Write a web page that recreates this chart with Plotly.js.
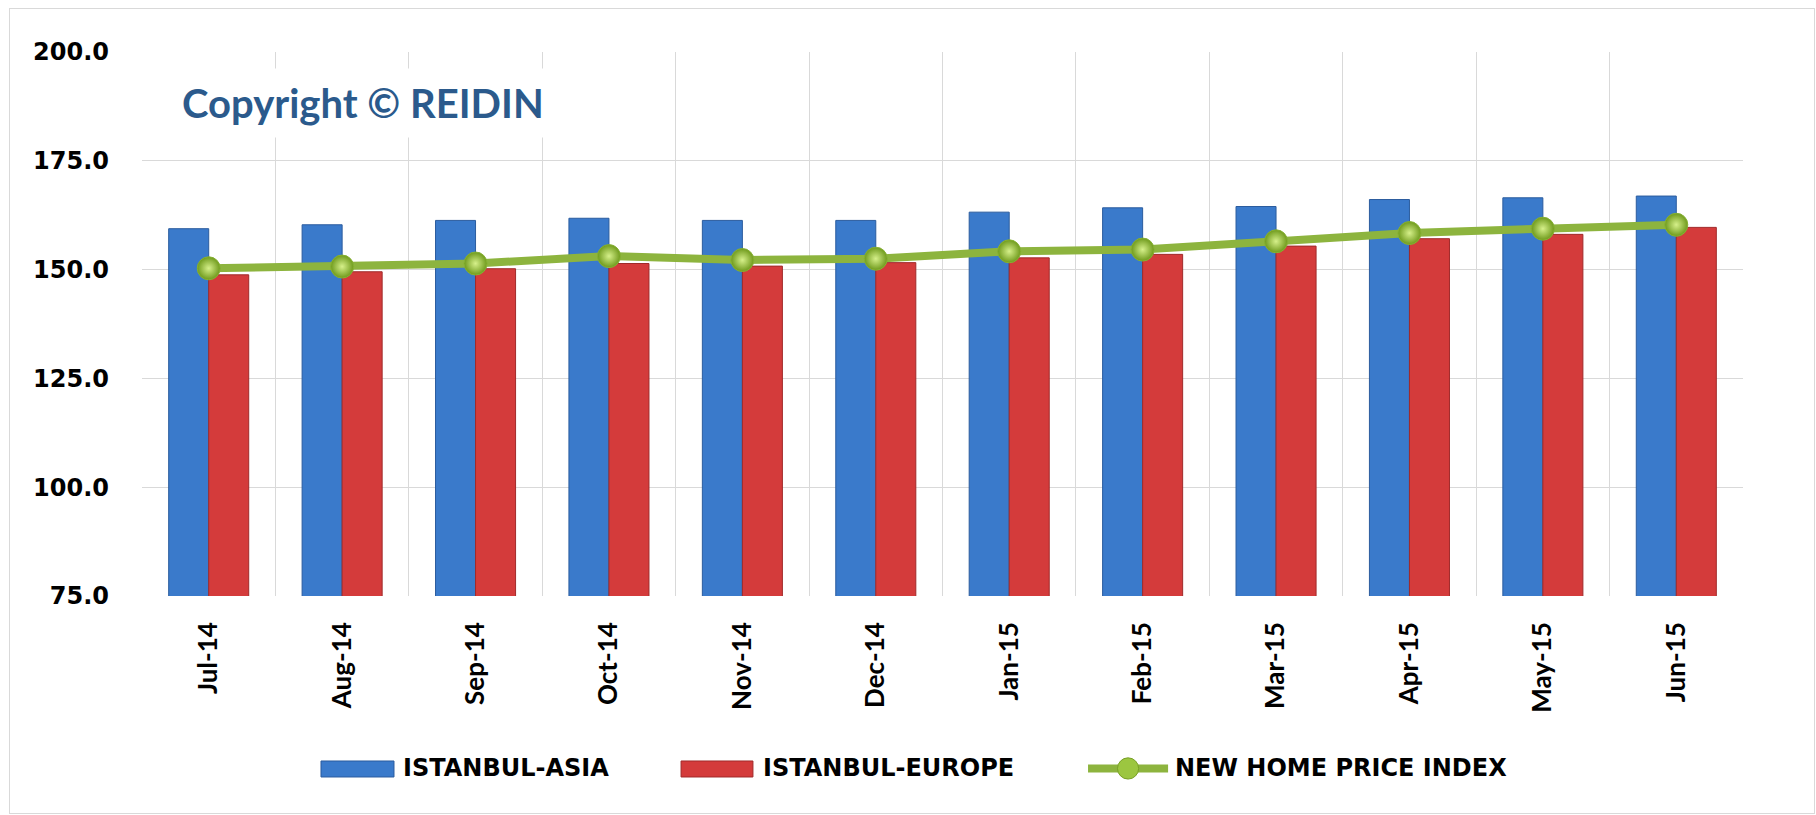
<!DOCTYPE html>
<html>
<head>
<meta charset="utf-8">
<script src="https://cdn.plot.ly/plotly-3.0.1.min.js"></script>
<style>
  html, body { margin: 0; padding: 0; background: #ffffff; }
  #chart { width: 1816px; height: 815px; }
  #frame { position: absolute; left: 9px; top: 8px; width: 1806px; height: 806px; border: 1px solid #d9d9d9; box-sizing: border-box; pointer-events: none; }
</style>
</head>
<body>
<div id="chart"></div>
<div id="frame"></div>
<script>
const months = ["Jul-14","Aug-14","Sep-14","Oct-14","Nov-14","Dec-14","Jan-15","Feb-15","Mar-15","Apr-15","May-15","Jun-15"];
const istanbulAsia   = [159.4, 160.3, 161.3, 161.8, 161.3, 161.3, 163.2, 164.2, 164.5, 166.1, 166.5, 166.9];
const istanbulEurope = [148.8, 149.5, 150.2, 151.4, 150.8, 151.6, 152.7, 153.5, 155.4, 157.1, 158.1, 159.7];
const newHomeIndex   = [150.3, 150.7, 151.4, 153.1, 152.2, 152.5, 154.2, 154.6, 156.5, 158.4, 159.4, 160.3];
const seriesNames = ["ISTANBUL-ASIA", "ISTANBUL-EUROPE", "NEW HOME PRICE INDEX"];
const yTicks = [75, 100, 125, 150, 175, 200];
const yTickText = ["75.0", "100.0", "125.0", "150.0", "175.0", "200.0"];

const BLUE = "#3a7acb", BLUE_EDGE = "#2b5c9e";
const RED = "#d43b3b", RED_EDGE = "#a02a2a";
const GREEN = "#8db43e";

const traces = [
  {
    type: "bar", name: seriesNames[0], x: months, y: istanbulAsia,
    marker: { color: BLUE, line: { color: BLUE_EDGE, width: 1 } }
  },
  {
    type: "bar", name: seriesNames[1], x: months, y: istanbulEurope,
    marker: { color: RED, line: { color: RED_EDGE, width: 1 } }
  },
  {
    type: "scatter", mode: "lines+markers", name: seriesNames[2], x: months, y: newHomeIndex,
    line: { color: GREEN, width: 8 },
    marker: { size: 23, color: "#6f9a1c", line: { color: "#86b133", width: 1 },
              gradient: { type: "radial", color: "#d6f08a" } }
  }
];

// Excel-style legend below the plot (paper coordinates)
const legendY = -0.317;
const legendFont = { family: "DejaVu Sans", size: 24, color: "#000000", weight: "bold" };
const legendShapes = [
  { type: "rect", xref: "paper", yref: "paper", x0: 0.1118, x1: 0.1574, y0: -0.3327, y1: -0.3033,
    fillcolor: BLUE, line: { color: BLUE_EDGE, width: 1 } },
  { type: "rect", xref: "paper", yref: "paper", x0: 0.3367, x1: 0.3816, y0: -0.3327, y1: -0.3033,
    fillcolor: RED, line: { color: RED_EDGE, width: 1 } },
  { type: "line", xref: "paper", yref: "paper", x0: 0.5909, x1: 0.6409, y0: legendY, y1: legendY,
    line: { color: GREEN, width: 8 } },
  { type: "circle", xref: "paper", yref: "paper", x0: 0.6159 - 0.0066, x1: 0.6159 + 0.0066,
    y0: legendY - 0.0195, y1: legendY + 0.0195, fillcolor: "#9cc640", line: { color: "#78a026", width: 1 } }
];
const legendXs = [0.1618, 0.3866, 0.6440];
const legendAnnotations = seriesNames.map((n, i) => ({
  text: n, xref: "paper", yref: "paper", x: legendXs[i], y: legendY,
  xanchor: "left", yanchor: "middle", showarrow: false, font: legendFont
}));

const layout = {
  width: 1816, height: 815,
  margin: { l: 142, r: 73, t: 52, b: 219 },
  paper_bgcolor: "#ffffff", plot_bgcolor: "#ffffff",
  barmode: "group", bargap: 0.4, bargroupgap: 0,
  showlegend: false,
  xaxis: {
    type: "category", range: [-0.5, 11.5], autorange: false,
    tickson: "boundaries", showgrid: true, gridcolor: "#d9d9d9", gridwidth: 1,
    ticks: "", tickangle: -90, ticklabelstandoff: 20,
    tickfont: { family: "Lato", size: 26, color: "#000000", weight: "bold" },
    showline: false, zeroline: false, fixedrange: true
  },
  yaxis: {
    range: [75, 200], autorange: false, tickvals: yTicks, ticktext: yTickText,
    showgrid: true, gridcolor: "#d9d9d9", gridwidth: 1, zeroline: false,
    ticks: "", ticklabelstandoff: 32,
    tickfont: { family: "DejaVu Sans", size: 24, color: "#000000", weight: "bold" },
    showline: false, fixedrange: true
  },
  shapes: legendShapes,
  annotations: [{
    text: "<b>Copyright © REIDIN</b>", xref: "paper", yref: "paper",
    x: 0.018, y: 0.906, xanchor: "left", yanchor: "middle", showarrow: false,
    font: { family: "Lato", size: 40, color: "#2b5a8c" },
    bgcolor: "#ffffff", borderpad: 10
  }].concat(legendAnnotations)
};

Plotly.newPlot("chart", traces, layout, { displayModeBar: false, staticPlot: true });
</script>
</body>
</html>
